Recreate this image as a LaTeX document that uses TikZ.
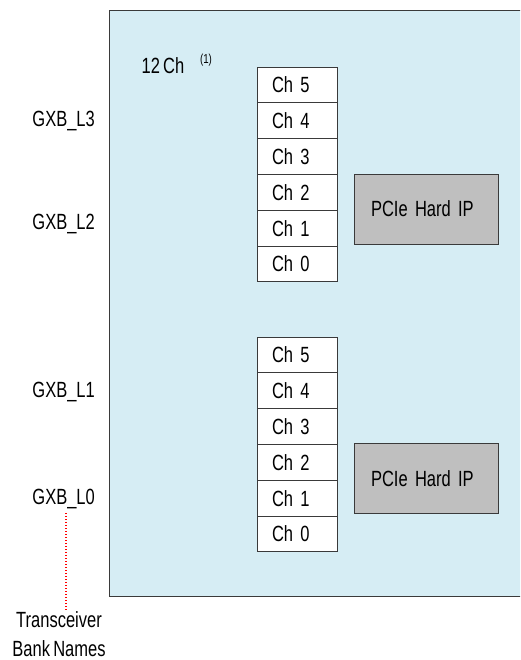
\documentclass[tikz,border=0pt]{standalone}
\usepackage{fontspec}
\setmainfont{Liberation Sans}[FakeStretch=0.75, WordSpace=0.7]
\usetikzlibrary{positioning}

\definecolor{chipblue}{HTML}{D6EDF4}
\definecolor{ipgray}{HTML}{BFBFBF}
\definecolor{edgegray}{HTML}{3A3A3A}

\tikzset{
  lbl/.style={font=\fontsize{22}{26}\selectfont, inner sep=0pt},
  chbox/.style={draw=edgegray, line width=0.9pt, fill=white, font=\fontsize{22}{26}\selectfont,
    minimum width=80pt, minimum height=35.8pt, text width=50pt, inner xsep=15pt, inner ysep=0pt, align=left},
  ipbox/.style={draw=edgegray, line width=0.9pt, fill=ipgray, font=\fontsize{22}{26}\selectfont,
    minimum width=144pt, minimum height=70pt, text width=110pt, inner xsep=17pt, inner ysep=0pt, align=left}
}

\begin{document}
\begin{tikzpicture}[x=1pt,y=-1pt]

\useasboundingbox (0,0) rectangle (520,660);
\clip (0,0) rectangle (520,660);

\coordinate (tl) at (109,10);
\coordinate (bl) at (109,596);
\coordinate (tr) at (540,10);
\coordinate (br) at (540,596);

\fill [chipblue] (tl) rectangle (br);
\draw [edgegray, line width=0.9pt] (tr) -- (tl) -- (bl) -- (br);

\node [lbl] (count) at (163,66) {12 Ch};
\node [lbl, font=\fontsize{13}{15}\selectfont] (note) at (206,60) {(1)};

% channel stacks
\foreach \i in {0,...,5}
    \node [chbox] (up\i) at (297,264-35.8*\i) {Ch \i};

\foreach \i in {0,...,5}
    \node [chbox] (lo\i) at (297,534-35.8*\i) {Ch \i};

\node [ipbox] (ipup) at (426,209) {PCIe Hard IP};
\node [ipbox] (iplo) at (426,478.5) {PCIe Hard IP};

% bank names
\node [lbl, anchor=base east] (l3) at (95,127) {GXB\_L3};
\node [lbl, anchor=base east] (l2) at (95,229) {GXB\_L2};
\node [lbl, anchor=base east] (l1) at (95,397) {GXB\_L1};
\node [lbl, anchor=base east] (l0) at (95,504) {GXB\_L0};

\node [lbl, align=center, font=\fontsize{22}{29}\selectfont] (bank) at (59,634) {Transceiver\\Bank Names};

\coordinate (dottop) at (66,513);
\draw [red, line width=1.1pt, dash pattern=on 1.2pt off 1.8pt] (dottop) -- (dottop |- 0,610);

\end{tikzpicture}
\end{document}
